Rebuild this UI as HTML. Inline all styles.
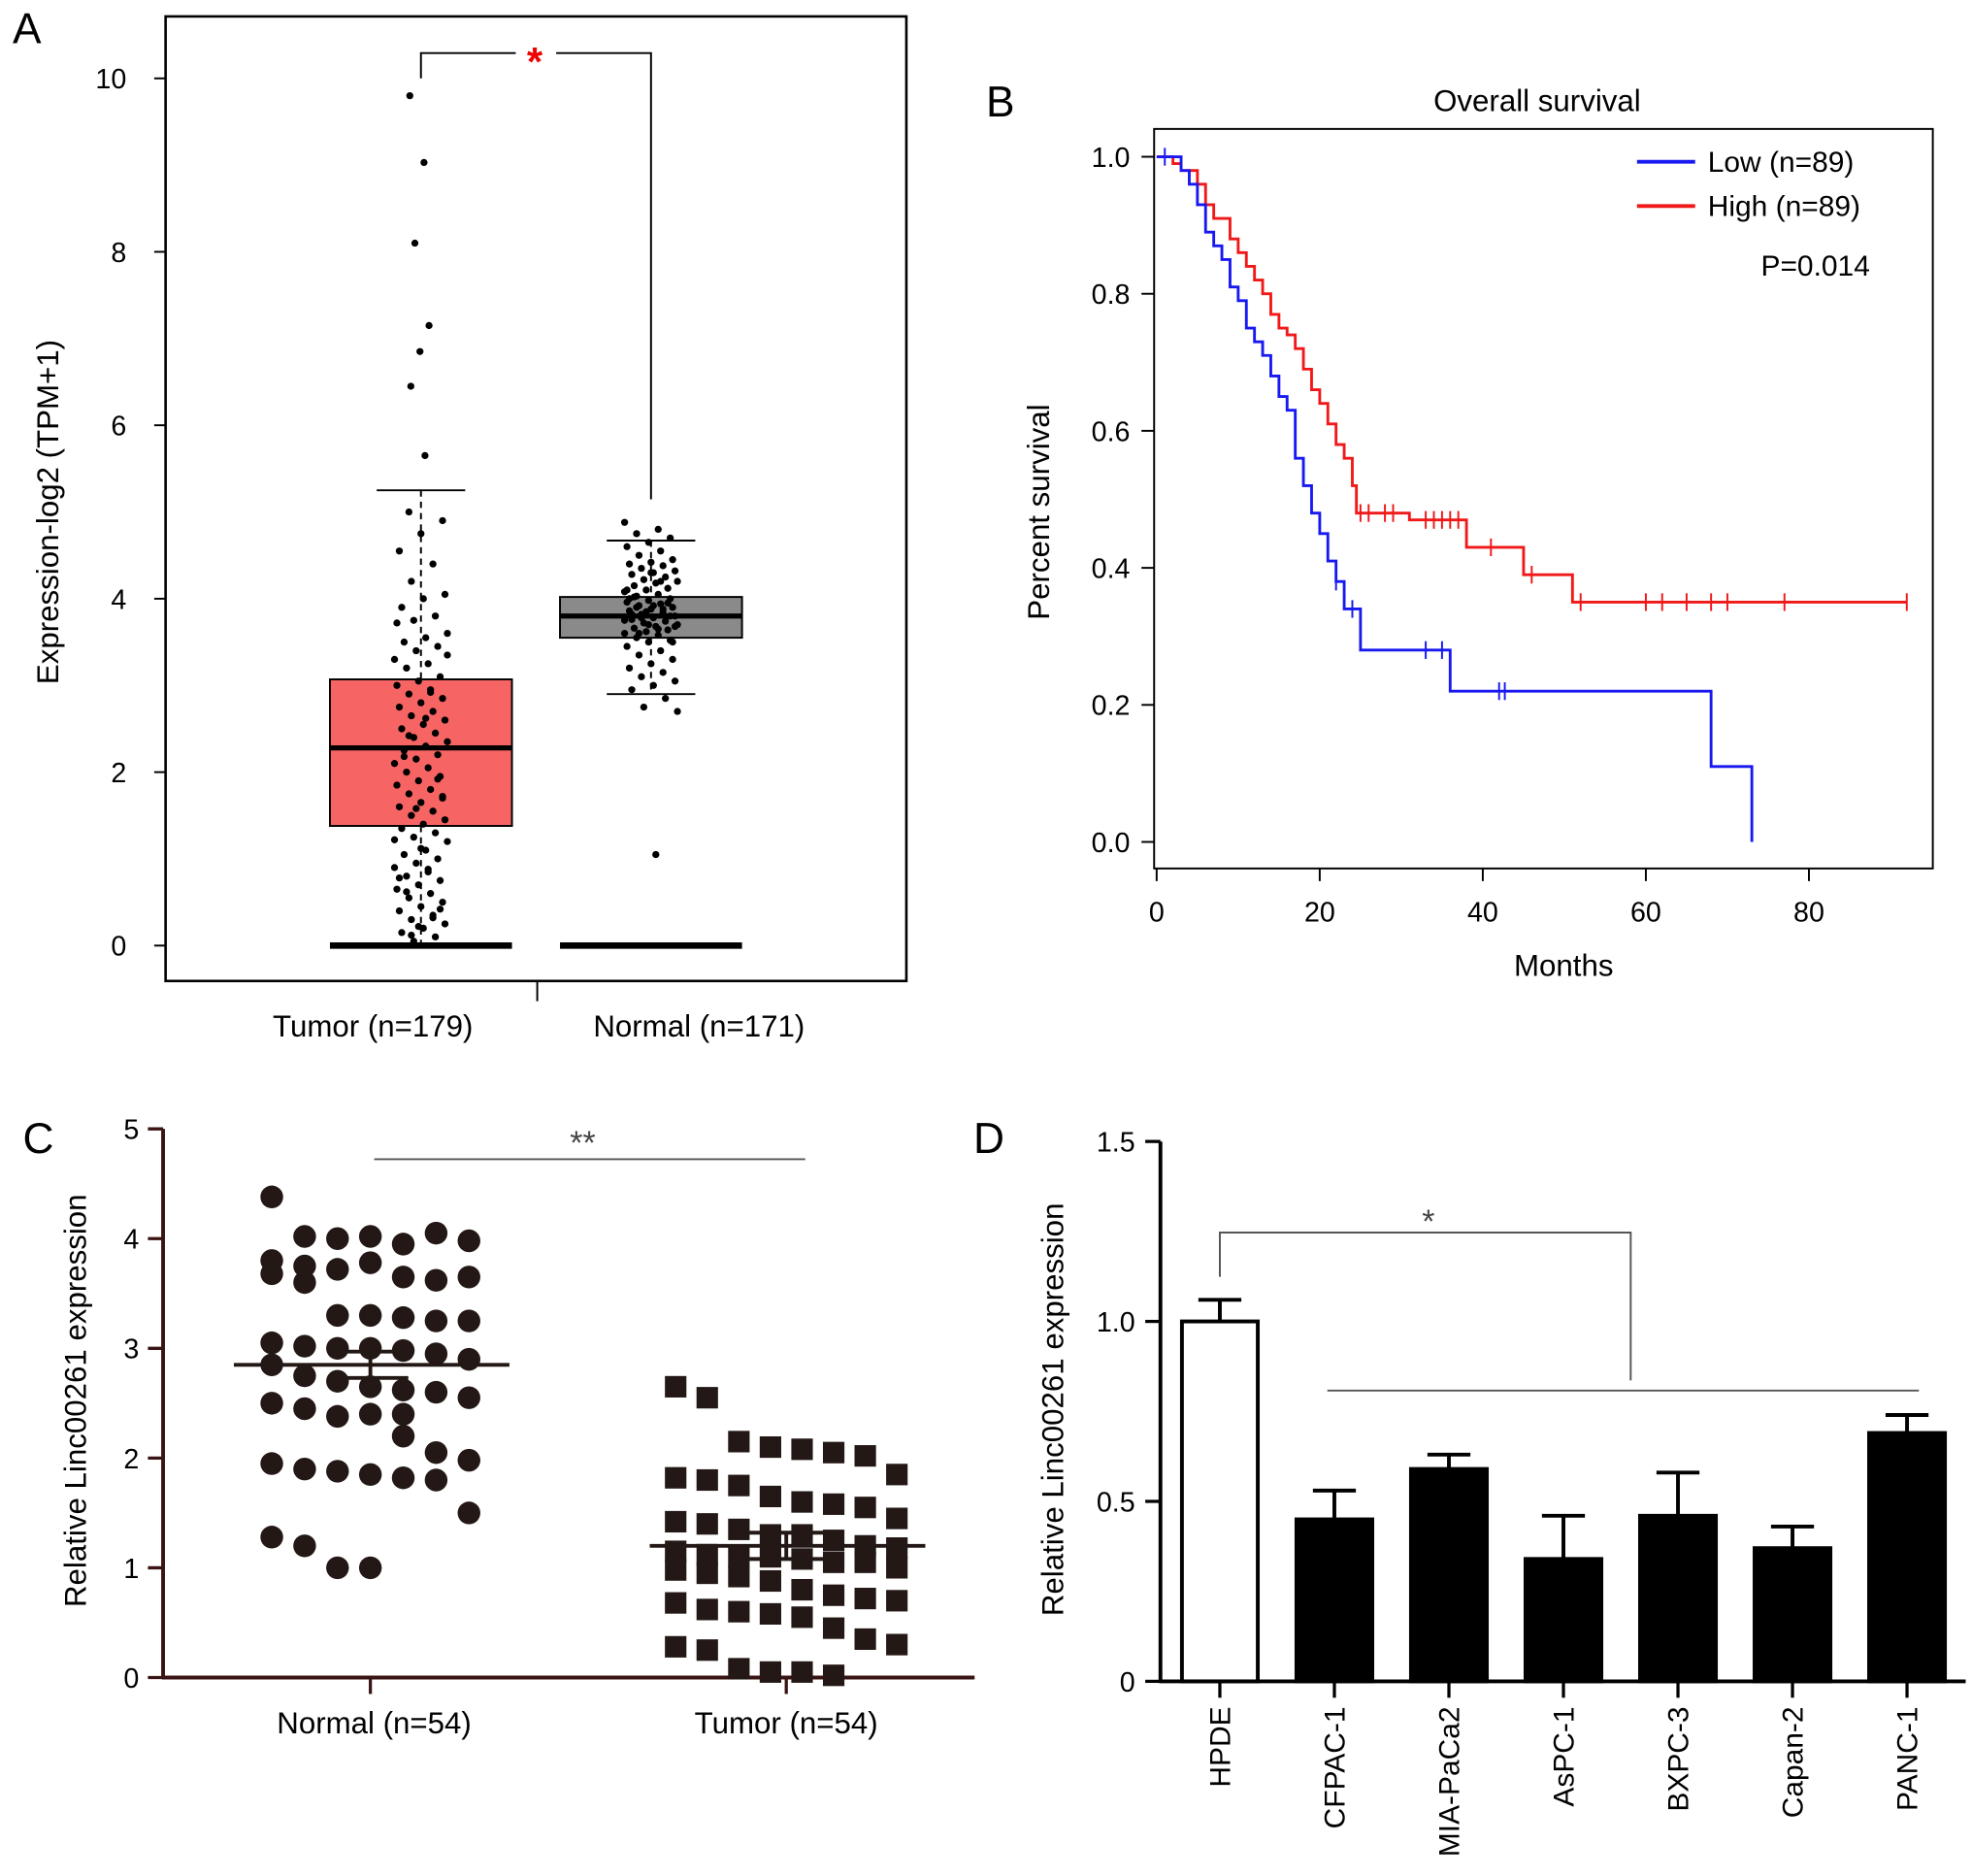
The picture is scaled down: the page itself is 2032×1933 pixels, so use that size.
<!DOCTYPE html>
<html><head><meta charset="utf-8"><style>
html,body{margin:0;padding:0;background:#fff}
svg{display:block;font-family:"Liberation Sans",Arial,sans-serif}
</style></head><body>
<svg id="fig" width="2032" height="1933" viewBox="0 0 1560 1484" preserveAspectRatio="none" xmlns="http://www.w3.org/2000/svg">
<rect width="1560" height="1484" fill="#fff"/>
</svg>
<script>
// ---------- Panel A data ----------
const aGroups = ['Tumor (n=179)', 'Normal (n=171)'];
const aYTicks = [0, 2, 4, 6, 8, 10];
const aTumorBox = {q1: 1.38, med: 2.28, q3: 3.07, lo: 0, hi: 5.25};
const aNormalBox = {q1: 3.55, med: 3.8, q3: 4.02, lo: 2.9, hi: 4.67};
const aTumorPts = [9.8,9.03,8.1,7.15,6.85,6.45,5.65,5.0,4.9,4.75,4.55,4.4,4.2,4.05,4.0,3.9,3.8,3.75,3.6,3.55,3.5,3.45,3.4,3.3,3.25,3.2,3.1,3.05,3.0,2.95,2.9,2.85,2.8,2.75,2.7,2.65,2.6,2.55,2.5,2.45,2.4,2.35,2.3,2.25,2.2,2.15,2.1,2.05,2.0,1.95,1.9,1.85,1.8,1.75,1.7,1.65,1.6,1.55,1.5,1.45,1.4,1.35,1.3,1.25,1.2,1.1,1.05,1.0,0.95,0.9,0.85,0.8,0.75,0.7,0.65,0.6,0.55,0.5,0.45,0.4,0.35,0.3,0.25,0.2,0.15,0.1,0.05,3.35,2.62,2.18,1.92,1.58,1.22,0.88,0.62,0.42,0.22,3.72,2.92,2.42,1.72,1.12,0.78,0.32,0.12];
const aNormalPts = [4.88,4.8,4.75,4.7,4.65,4.6,4.55,4.5,4.45,4.42,4.4,4.38,4.35,4.32,4.3,4.28,4.25,4.22,4.2,4.18,4.15,4.12,4.1,4.08,4.05,4.03,4.0,3.98,3.96,3.94,3.92,3.9,3.88,3.86,3.84,3.82,3.8,3.78,3.76,3.74,3.72,3.7,3.68,3.66,3.64,3.62,3.6,3.58,3.55,3.52,3.5,3.45,3.4,3.35,3.3,3.25,3.2,3.15,3.1,3.05,3.0,2.95,2.85,2.75,2.7,1.05,4.02,3.95,3.85,3.75,3.65,3.9,3.8,3.7,4.1,4.2,3.6,3.5,4.3,4.0,3.88,3.78,3.68,3.92,3.82];
// ---------- Panel B data ----------
const bXTicks = [0, 20, 40, 60, 80];
const bYTicks = [0.0, 0.2, 0.4, 0.6, 0.8, 1.0];
const bLowT = [0,3,4,5,6,7,8,9,10,11,12,13,14,15,16,17,18,19,20,21,22,23,25,36,68,73];
const bLowS = [1,0.98,0.96,0.93,0.89,0.87,0.85,0.81,0.79,0.75,0.73,0.71,0.68,0.65,0.63,0.56,0.52,0.48,0.45,0.41,0.38,0.34,0.28,0.22,0.11,0.0];
const bLowCensor = [1,22,24,33,35,42,42.7];
const bHighT = [0,2,3,5,6,7,9,10,11,12,13,14,15,16,17,18,19,20,21,22,23,24,24.5,31,38,45,51,92];
const bHighS = [1,0.99,0.98,0.96,0.93,0.91,0.88,0.86,0.84,0.82,0.80,0.77,0.75,0.74,0.72,0.69,0.66,0.64,0.61,0.58,0.56,0.52,0.48,0.47,0.43,0.39,0.35,0.35];
const bHighCensor = [25,26,28,29,33,34,35,36,37,41,46,52,60,62,65,68,70,77,92];
// ---------- Panel C data ----------
const cGroups = ['Normal (n=54)', 'Tumor (n=54)'];
const cYTicks = [0,1,2,3,4,5];
const cNormal = [4.38,4.02,4.0,4.02,3.95,4.05,3.98,3.8,3.75,3.72,3.78,3.65,3.62,3.65,3.68,3.6,3.3,3.3,3.28,3.25,3.25,3.05,3.02,3.0,3.0,2.98,2.95,2.9,2.85,2.75,2.7,2.65,2.62,2.6,2.55,2.5,2.45,2.38,2.4,2.4,2.05,1.98,1.95,1.9,1.88,1.85,1.82,1.8,1.5,1.28,1.2,1.0,1.0,2.2];
const cTumor = [2.65,2.55,2.15,2.1,2.08,2.05,2.02,1.85,1.82,1.8,1.75,1.65,1.6,1.58,1.55,1.45,1.42,1.4,1.35,1.3,1.3,1.25,1.2,1.18,1.15,1.12,1.1,1.1,1.08,1.05,1.05,1.0,0.98,0.95,0.92,0.88,0.8,0.75,0.72,0.7,0.68,0.62,0.6,0.58,0.55,0.45,0.35,0.3,0.28,0.25,0.08,0.05,0.05,0.02];
const cMeans = [2.85, 1.2];
// ---------- Panel D data ----------
const dCats = ['HPDE','CFPAC-1','MIA-PaCa2','AsPC-1','BXPC-3','Capan-2','PANC-1'];
const dVals = [1.0,0.45,0.59,0.34,0.46,0.37,0.69];
const dErr = [0.06,0.08,0.04,0.12,0.12,0.06,0.05];
const dYTicks = [0,0.5,1.0,1.5];

const svg = document.getElementById('fig');
const NS = 'http://www.w3.org/2000/svg';
function mk(tag, attrs, parent){const e=document.createElementNS(NS,tag);for(const k in attrs)e.setAttribute(k,attrs[k]);(parent||svg).appendChild(e);return e;}
function txt(s, attrs, parent){const e=mk('text',attrs,parent);e.textContent=s;return e;}
function line(x1,y1,x2,y2,st,w,p){return mk('line',{x1,y1,x2,y2,stroke:st||'#000','stroke-width':w||2},p);}

// ===== Panel letters =====
[['A',10,34],['B',780,92],['C',18,912],['D',770,912]].forEach(([l,x,y])=>{
  const t=txt(l,{x,y,'font-size':34,fill:'#000'});
  
  
});

// ===== Panel A =====
const gA=mk('g',{});


const aY=v=>748-v*68.6;
const fr=mk('rect',{x:131,y:13,width:586,height:763,fill:'none',stroke:'#000','stroke-width':2},gA);


aYTicks.forEach(v=>{line(122,aY(v),131,aY(v),'#000',1.5,gA);const t=txt(String(v),{x:100,y:aY(v)+8,'font-size':22,'text-anchor':'end'},gA);
  
  });
line(425,776,425,792,'#000',1.5,gA);
const ayt=txt('Expression-log2 (TPM+1)',{x:0,y:0,'font-size':24,'text-anchor':'middle',transform:'translate(46,405) rotate(-90)'},gA);


const aCx=[333,515];
aGroups.forEach((g,i)=>{const t=txt(g,{x:[295,553][i],y:820,'font-size':24,'text-anchor':'middle'},gA);
  
  });
function boxA(b,cx,fill,name){
  const g=mk('g',{},gA);
  
  
  mk('line',{x1:cx,y1:aY(b.hi),x2:cx,y2:aY(b.q3),stroke:'#000','stroke-width':1.5,'stroke-dasharray':'5,4'},g);
  mk('line',{x1:cx,y1:aY(b.q1),x2:cx,y2:aY(b.lo),stroke:'#000','stroke-width':1.5,'stroke-dasharray':'5,4'},g);
  line(cx-35,aY(b.hi),cx+35,aY(b.hi),'#000',1.5,g);
  line(cx-35,aY(b.lo),cx+35,aY(b.lo),'#000',1.5,g);
  mk('rect',{x:cx-72,y:aY(b.q3),width:144,height:aY(b.q1)-aY(b.q3),fill,stroke:'#000','stroke-width':1.5},g);
  line(cx-72,aY(b.med),cx+72,aY(b.med),'#000',4,g);
  line(cx-72,aY(0),cx+72,aY(0),'#000',5,g);
}
boxA(aTumorBox,aCx[0],'#f66464','box-tumor');
boxA(aNormalBox,aCx[1],'#8a8a8a','box-normal');
[[aTumorPts,aCx[0],'points-tumor'],[aNormalPts,aCx[1],'points-normal']].forEach(([arr,cx,nm])=>{
  const g=mk('g',{fill:'#000'},gA);
  
  
  arr.forEach((v,i)=>{const off=(((i*37)%23)-11)*(v>5?0.8:1.9);mk('circle',{cx:cx+off,cy:aY(v),r:2.8},g);});
});
const br=mk('path',{d:'M333,62 V42 H408 M440,42 H515 V395',fill:'none',stroke:'#000','stroke-width':1.5},gA);


const st=txt('*',{x:423,y:60,'font-size':32,'text-anchor':'middle',fill:'#e00','font-weight':'bold'},gA);



// ===== Panel B =====
const gB=mk('g',{});


const bX=t=>915+t*6.45, bY=s=>666-s*542;
const frb=mk('rect',{x:913,y:102,width:616,height:585,fill:'none',stroke:'#000','stroke-width':1.5},gB);


bYTicks.forEach(v=>{line(903,bY(v),913,bY(v),'#000',1.5,gB);const t=txt(v.toFixed(1),{x:894,y:bY(v)+8,'font-size':22,'text-anchor':'end'},gB);
  
  });
bXTicks.forEach(v=>{line(bX(v),687,bX(v),697,'#000',1.5,gB);const t=txt(String(v),{x:bX(v),y:729,'font-size':22,'text-anchor':'middle'},gB);
  
  });
[['Overall survival',1216,88,'chart-title-b'],['Months',1237,772,'x-axis-title-b']].forEach(([s,x,y,n])=>{const t=txt(s,{x,y,'font-size':24,'text-anchor':'middle'},gB);
  
  });
const byt=txt('Percent survival',{x:0,y:0,'font-size':24,'text-anchor':'middle',transform:'translate(830,405) rotate(-90)'},gB);


function km(T,S,C,col,name){
  let d='M'+bX(T[0])+','+bY(S[0]);
  for(let i=1;i<T.length;i++){d+=' H'+bX(T[i])+' V'+bY(S[i]);}
  const p=mk('path',{d,fill:'none',stroke:col,'stroke-width':2.2},gB);
  
  
  C.forEach(c=>{let s=S[0];for(let i=0;i<T.length;i++)if(T[i]<=c)s=S[i];
    const m=line(bX(c),bY(s)-7,bX(c),bY(s)+7,col,1.5,gB);
    
    });
}
km(bHighT,bHighS,bHighCensor,'#f01818','km-high');
km(bLowT,bLowS,bLowCensor,'#1818f0','km-low');
[['Low (n=89)','#1818f0',128],['High (n=89)','#f01818',163]].forEach(([s,c,y],i)=>{
  const g=mk('g',{},gB);
  
  
  line(1295,y,1341,y,c,3,g);
  txt(s,{x:1351,y:y+8,'font-size':23},g);
});
const pv=txt('P=0.014',{x:1393,y:218,'font-size':23},gB);



// ===== Panel C =====
const gC=mk('g',{});


const cY=v=>1327-v*86.8;
const axc='#3a1414';
line(129,893,129,1328,axc,3,gC);line(128,1327,771,1327,axc,3,gC);
cYTicks.forEach(v=>{line(117,cY(v),129,cY(v),axc,2.5,gC);const t=txt(String(v),{x:110,y:cY(v)+8,'font-size':22,'text-anchor':'end'},gC);
  
  });
const cCx=[293,622];
cGroups.forEach((g,i)=>{line(cCx[i],1327,cCx[i],1340,axc,2.5,gC);const t=txt(g,{x:[296,622][i],y:1371,'font-size':24,'text-anchor':'middle'},gC);
  
  });
const cyt=txt('Relative Linc00261 expression',{x:0,y:0,'font-size':24,'text-anchor':'middle',transform:'translate(68,1108) rotate(-90)'},gC);


const gN=mk('g',{fill:'#231815'},gC);


cNormal.forEach((v,i)=>{const off=((i%7)-3)*26;mk('circle',{cx:cCx[0]+off,cy:cY(v),r:9},gN);});
const gT=mk('g',{fill:'#231815'},gC);


cTumor.forEach((v,i)=>{const off=((i%8)-3.5)*25;mk('rect',{x:cCx[1]+off-8.5,y:cY(v)-8.5,width:17,height:17},gT);});
cMeans.forEach((m,i)=>{const cx=cCx[i];
  const l=line(cx-108,cY(m),cx+110,cY(m),'#231815',3,gC);
  
  
  line(cx-30,cY(m+0.12),cx+30,cY(m+0.12),'#231815',3,gC);line(cx-30,cY(m-0.12),cx+30,cY(m-0.12),'#231815',3,gC);line(cx,cY(m+0.12),cx,cY(m-0.12),'#231815',3,gC);});
line(296,917,637,917,'#555',1.5,gC);
const sc=txt('**',{x:461,y:913,'font-size':26,'text-anchor':'middle',fill:'#444'},gC);



// ===== Panel D =====
const gD=mk('g',{});


const dY=v=>1330-v*284.7, dX=i=>965+i*90.6;
line(918,903,918,1331,'#000',3,gD);line(917,1330,1555,1330,'#000',3,gD);
dYTicks.forEach(v=>{line(906,dY(v),918,dY(v),'#000',2.5,gD);const t=txt(v===0?'0':v.toFixed(1),{x:898,y:dY(v)+8,'font-size':22,'text-anchor':'end'},gD);
  
  });
const dyt=txt('Relative Linc00261 expression',{x:0,y:0,'font-size':24,'text-anchor':'middle',transform:'translate(841,1115) rotate(-90)'},gD);


dCats.forEach((c,i)=>{const cx=dX(i);
  const g=mk('g',{},gD);
  
  
  line(cx,dY(dVals[i]),cx,dY(dVals[i]+dErr[i]),'#000',3,g);
  line(cx-17,dY(dVals[i]+dErr[i]),cx+17,dY(dVals[i]+dErr[i]),'#000',3,g);
  mk('rect',{x:cx-30,y:dY(dVals[i]),width:60,height:dY(0)-dY(dVals[i]),fill:i===0?'#fff':'#000',stroke:'#000','stroke-width':3},g);
  line(cx,1330,cx,1343,'#000',2.5,gD);
  const t=txt(c,{x:0,y:0,'font-size':23,'text-anchor':'end',transform:`translate(${cx+8},1350) rotate(-90)`},gD);
  
  
});
const bd=mk('path',{d:'M965,1010 V975 H1290 V1092 M1050,1100 H1518',fill:'none',stroke:'#555','stroke-width':1.5},gD);


const sd=txt('*',{x:1130,y:975,'font-size':26,'text-anchor':'middle',fill:'#444'},gD);


</script>
</body></html>
